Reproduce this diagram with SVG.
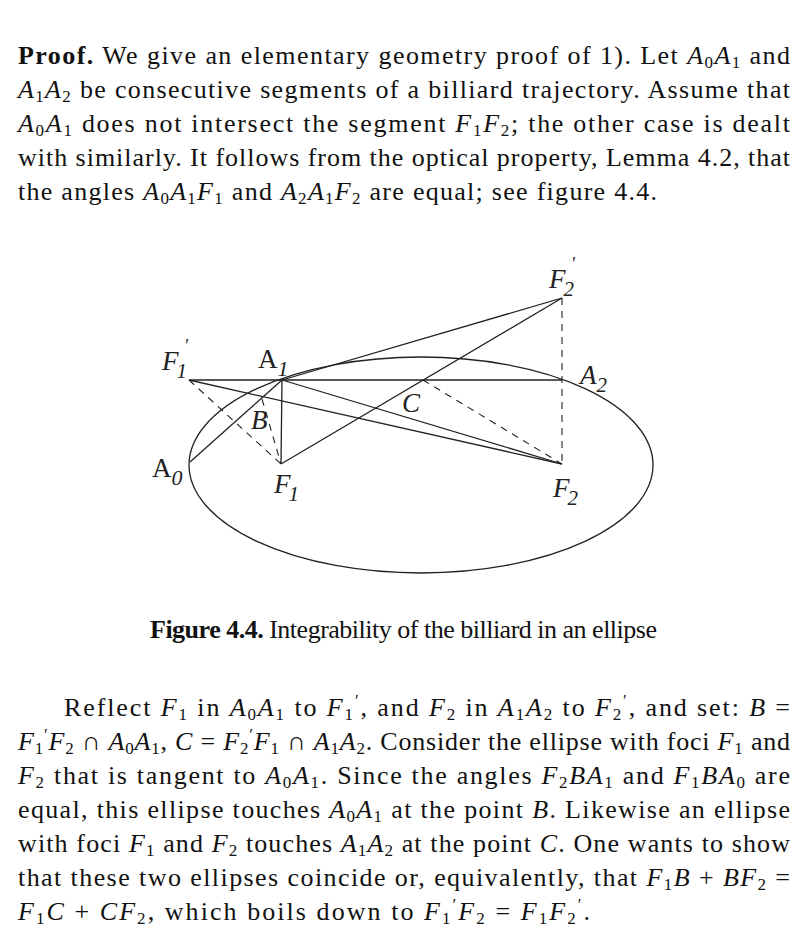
<svg xmlns="http://www.w3.org/2000/svg" width="800" height="933" viewBox="0 0 800 933">
<style>
.t{font-family:"Liberation Serif",serif;font-size:26px;fill:#111}
.i{font-style:italic}
.s{font-size:17px}
.b{font-weight:bold}
.l{stroke:#222;stroke-width:1.3;fill:none}
.d{stroke:#222;stroke-width:1.1;fill:none;stroke-dasharray:7,6}
.fl{font-family:"Liberation Serif",serif;font-size:27px;fill:#222}
</style>
<rect width="800" height="933" fill="#fff"/>
<g id="text-top" class="t">
<text x="18" y="64" textLength="772" lengthAdjust="spacing"><tspan class="b">Proof.</tspan> We give an elementary geometry proof of 1). Let <tspan class="i">A</tspan><tspan class="s" dy="4">0</tspan><tspan class="i" dy="-4">A</tspan><tspan class="s" dy="4">1</tspan><tspan dy="-4"> and</tspan></text>
<text x="18" y="98" textLength="772" lengthAdjust="spacing"><tspan class="i">A</tspan><tspan class="s" dy="4">1</tspan><tspan class="i" dy="-4">A</tspan><tspan class="s" dy="4">2</tspan><tspan dy="-4"> be consecutive segments of a billiard trajectory. Assume that</tspan></text>
<text x="18" y="132" textLength="772" lengthAdjust="spacing"><tspan class="i">A</tspan><tspan class="s" dy="4">0</tspan><tspan class="i" dy="-4">A</tspan><tspan class="s" dy="4">1</tspan><tspan dy="-4"> does not intersect the segment </tspan><tspan class="i">F</tspan><tspan class="s" dy="4">1</tspan><tspan class="i" dy="-4">F</tspan><tspan class="s" dy="4">2</tspan><tspan dy="-4">; the other case is dealt</tspan></text>
<text x="18" y="166" textLength="772" lengthAdjust="spacing">with similarly. It follows from the optical property, Lemma 4.2, that</text>
<text x="18" y="200" textLength="639" lengthAdjust="spacing">the angles <tspan class="i">A</tspan><tspan class="s" dy="4">0</tspan><tspan class="i" dy="-4">A</tspan><tspan class="s" dy="4">1</tspan><tspan class="i" dy="-4">F</tspan><tspan class="s" dy="4">1</tspan><tspan dy="-4"> and </tspan><tspan class="i">A</tspan><tspan class="s" dy="4">2</tspan><tspan class="i" dy="-4">A</tspan><tspan class="s" dy="4">1</tspan><tspan class="i" dy="-4">F</tspan><tspan class="s" dy="4">2</tspan><tspan dy="-4"> are equal; see figure 4.4.</tspan></text>
</g>
<g id="figure">
<ellipse id="ellipse" cx="421" cy="465" rx="232" ry="108" class="l"/>
<g id="connectors">
<line x1="189" y1="380" x2="562" y2="380" class="l"/>
<line x1="282" y1="380" x2="562" y2="298" class="l"/>
<line x1="281" y1="464" x2="562" y2="298" class="l"/>
<line x1="190" y1="462" x2="282" y2="380" class="l"/>
<line x1="282" y1="380" x2="281" y2="464" class="l"/>
<line x1="282" y1="380" x2="562" y2="464" class="l"/>
<line x1="189" y1="380" x2="562" y2="464" class="l"/>
<line x1="189" y1="380" x2="281" y2="464" class="d"/>
<line x1="262" y1="399" x2="281" y2="464" class="d"/>
<line x1="423" y1="380" x2="562" y2="464" class="d"/>
<line x1="562" y1="298" x2="562" y2="464" class="d"/>
</g>
<g id="labels" class="fl">
<text x="162" y="370" class="i">F<tspan font-size="21" dx="-2" dy="8">1</tspan><tspan font-size="18" dx="-3" dy="-26">'</tspan></text>
<text x="258" y="368">A<tspan class="i" font-size="22" dy="8">1</tspan></text>
<text x="580" y="384" class="i">A<tspan font-size="21" dy="8">2</tspan></text>
<text x="549" y="288" class="i">F<tspan font-size="21" dx="-2" dy="8">2</tspan><tspan font-size="18" dx="-3" dy="-26">'</tspan></text>
<text x="152" y="477">A<tspan class="i" font-size="22" dy="8">0</tspan></text>
<text x="274" y="493" class="i">F<tspan font-size="21" dx="-2" dy="8">1</tspan></text>
<text x="553" y="497" class="i">F<tspan font-size="21" dx="-2" dy="8">2</tspan></text>
<text x="251" y="429" class="i">B</text>
<text x="402" y="412" class="i">C</text>
</g>
</g>
<text id="caption" x="150" y="638" class="t" font-size="20" textLength="507" lengthAdjust="spacing"><tspan class="b">Figure 4.4.</tspan> Integrability of the billiard in an ellipse</text>
<g id="text-bottom" class="t">
<text x="64" y="716" textLength="726" lengthAdjust="spacing">Reflect <tspan class="i">F</tspan><tspan class="s" dy="4">1</tspan><tspan dy="-4"> in </tspan><tspan class="i">A</tspan><tspan class="s" dy="4">0</tspan><tspan class="i" dy="-4">A</tspan><tspan class="s" dy="4">1</tspan><tspan dy="-4"> to </tspan><tspan class="i">F</tspan><tspan class="s" dy="4">1</tspan><tspan class="s" dy="-14">′</tspan><tspan dy="10">, and </tspan><tspan class="i">F</tspan><tspan class="s" dy="4">2</tspan><tspan dy="-4"> in </tspan><tspan class="i">A</tspan><tspan class="s" dy="4">1</tspan><tspan class="i" dy="-4">A</tspan><tspan class="s" dy="4">2</tspan><tspan dy="-4"> to </tspan><tspan class="i">F</tspan><tspan class="s" dy="4">2</tspan><tspan class="s" dy="-14">′</tspan><tspan dy="10">, and set: </tspan><tspan class="i">B</tspan> =</text>
<text x="18" y="750" textLength="772" lengthAdjust="spacing"><tspan class="i">F</tspan><tspan class="s" dy="4">1</tspan><tspan class="s" dy="-14">′</tspan><tspan class="i" dy="10">F</tspan><tspan class="s" dy="4">2</tspan><tspan dy="-4"> ∩ </tspan><tspan class="i">A</tspan><tspan class="s" dy="4">0</tspan><tspan class="i" dy="-4">A</tspan><tspan class="s" dy="4">1</tspan><tspan dy="-4">, </tspan><tspan class="i">C</tspan> = <tspan class="i">F</tspan><tspan class="s" dy="4">2</tspan><tspan class="s" dy="-14">′</tspan><tspan class="i" dy="10">F</tspan><tspan class="s" dy="4">1</tspan><tspan dy="-4"> ∩ </tspan><tspan class="i">A</tspan><tspan class="s" dy="4">1</tspan><tspan class="i" dy="-4">A</tspan><tspan class="s" dy="4">2</tspan><tspan dy="-4">. Consider the ellipse with foci </tspan><tspan class="i">F</tspan><tspan class="s" dy="4">1</tspan><tspan dy="-4"> and</tspan></text>
<text x="18" y="784" textLength="772" lengthAdjust="spacing"><tspan class="i">F</tspan><tspan class="s" dy="4">2</tspan><tspan dy="-4"> that is tangent to </tspan><tspan class="i">A</tspan><tspan class="s" dy="4">0</tspan><tspan class="i" dy="-4">A</tspan><tspan class="s" dy="4">1</tspan><tspan dy="-4">. Since the angles </tspan><tspan class="i">F</tspan><tspan class="s" dy="4">2</tspan><tspan class="i" dy="-4">BA</tspan><tspan class="s" dy="4">1</tspan><tspan dy="-4"> and </tspan><tspan class="i">F</tspan><tspan class="s" dy="4">1</tspan><tspan class="i" dy="-4">BA</tspan><tspan class="s" dy="4">0</tspan><tspan dy="-4"> are</tspan></text>
<text x="18" y="818" textLength="772" lengthAdjust="spacing">equal, this ellipse touches <tspan class="i">A</tspan><tspan class="s" dy="4">0</tspan><tspan class="i" dy="-4">A</tspan><tspan class="s" dy="4">1</tspan><tspan dy="-4"> at the point </tspan><tspan class="i">B</tspan>. Likewise an ellipse</text>
<text x="18" y="852" textLength="772" lengthAdjust="spacing">with foci <tspan class="i">F</tspan><tspan class="s" dy="4">1</tspan><tspan dy="-4"> and </tspan><tspan class="i">F</tspan><tspan class="s" dy="4">2</tspan><tspan dy="-4"> touches </tspan><tspan class="i">A</tspan><tspan class="s" dy="4">1</tspan><tspan class="i" dy="-4">A</tspan><tspan class="s" dy="4">2</tspan><tspan dy="-4"> at the point </tspan><tspan class="i">C</tspan>. One wants to show</text>
<text x="18" y="886" textLength="772" lengthAdjust="spacing">that these two ellipses coincide or, equivalently, that <tspan class="i">F</tspan><tspan class="s" dy="4">1</tspan><tspan class="i" dy="-4">B</tspan> + <tspan class="i">BF</tspan><tspan class="s" dy="4">2</tspan><tspan dy="-4"> =</tspan></text>
<text x="18" y="920" textLength="572" lengthAdjust="spacing"><tspan class="i">F</tspan><tspan class="s" dy="4">1</tspan><tspan class="i" dy="-4">C</tspan> + <tspan class="i">CF</tspan><tspan class="s" dy="4">2</tspan><tspan dy="-4">, which boils down to </tspan><tspan class="i">F</tspan><tspan class="s" dy="4">1</tspan><tspan class="s" dy="-14">′</tspan><tspan class="i" dy="10">F</tspan><tspan class="s" dy="4">2</tspan><tspan dy="-4"> = </tspan><tspan class="i">F</tspan><tspan class="s" dy="4">1</tspan><tspan class="i" dy="-4">F</tspan><tspan class="s" dy="4">2</tspan><tspan class="s" dy="-14">′</tspan><tspan dy="10">.</tspan></text>
</g>
</svg>
